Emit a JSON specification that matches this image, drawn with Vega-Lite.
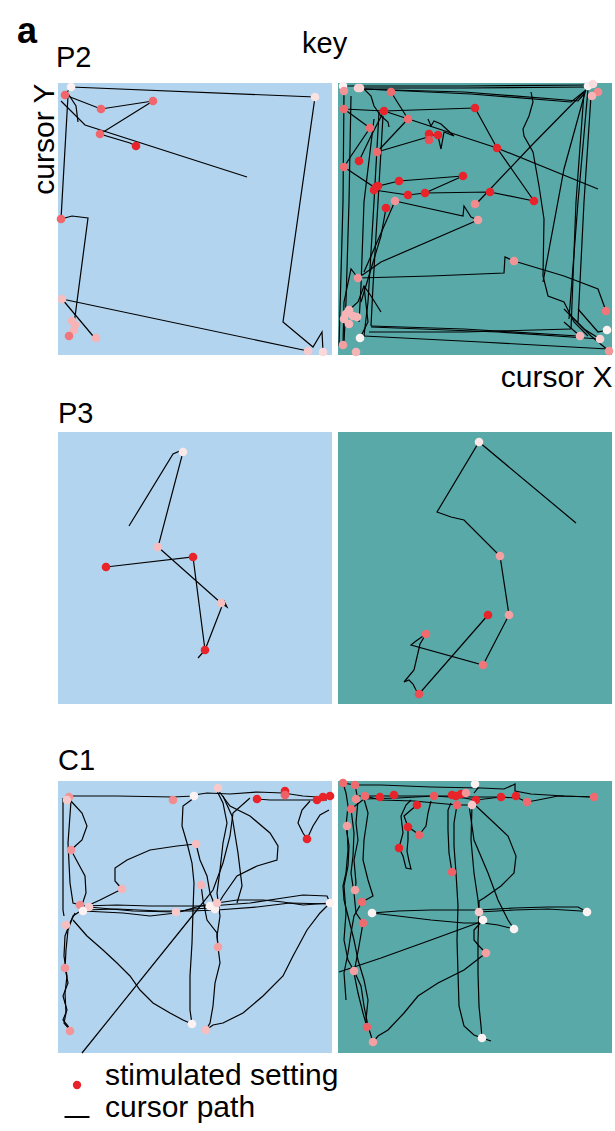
{
  "$schema": "https://vega.github.io/schema/vega-lite/v6.json",
  "padding": {"left": 17, "top": 13, "right": 3, "bottom": 3},
  "config": {
    "font": "Liberation Sans",
    "view": {"stroke": null},
    "title": {"color": "#000", "fontWeight": "normal"},
    "legend": {"orient": "none", "legendX": 4, "legendY": 987, "labelFontSize": 30, "labelColor": "#000", "labelLimit": 500, "labelOffset": 13, "labelBaseline": "alphabetic", "symbolStrokeWidth": 2, "rowPadding": 0, "padding": 0}
  },
  "title": {"text": "a", "anchor": "start", "frame": "group", "fontSize": 36, "fontWeight": "bold", "baseline": "alphabetic", "offset": -49, "dx": -41},
  "columns": 2,
  "bounds": "flush",
  "spacing": {"row": 77, "column": 6},
  "datasets": {
    "paths": [
      {"p":"P2L","g":"a1","x":189,"y":178},{"p":"P2L","g":"a1","x":27,"y":230},{"p":"P2L","g":"a1","x":3,"y":254},
      {"p":"P2L","g":"a2","x":13,"y":268},{"p":"P2L","g":"a2","x":257,"y":258},{"p":"P2L","g":"a2","x":225,"y":33},{"p":"P2L","g":"a2","x":255,"y":8},{"p":"P2L","g":"a2","x":264,"y":23},{"p":"P2L","g":"a2","x":265,"y":4},
      {"p":"P2L","g":"a3","x":7,"y":260},{"p":"P2L","g":"a3","x":43,"y":246},{"p":"P2L","g":"a3","x":95,"y":254},{"p":"P2L","g":"a3","x":42,"y":221},{"p":"P2L","g":"a3","x":72,"y":212},{"p":"P2L","g":"a3","x":78,"y":209},
      {"p":"P2L","g":"a4","x":10,"y":259},{"p":"P2L","g":"a4","x":3,"y":136},{"p":"P2L","g":"a4","x":14,"y":139},{"p":"P2L","g":"a4","x":30,"y":137},{"p":"P2L","g":"a4","x":15,"y":23},{"p":"P2L","g":"a4","x":11,"y":19},
      {"p":"P2L","g":"a5","x":4,"y":56},{"p":"P2L","g":"a5","x":250,"y":4},
      {"p":"P2L","g":"a6","x":4,"y":56},{"p":"P2L","g":"a6","x":35,"y":19},{"p":"P2L","g":"a6","x":38,"y":17},
      {"p":"P2L","g":"a7","x":9,"y":263},{"p":"P2L","g":"a7","x":18,"y":249},{"p":"P2L","g":"a7","x":20,"y":233},
      {"p":"P2L","g":"a8","x":7,"y":260},{"p":"P2L","g":"a8","x":13,"y":268},

      {"p":"P3L","g":"b1","x":71,"y":178},{"p":"P3L","g":"b1","x":115,"y":250},{"p":"P3L","g":"b1","x":122,"y":253},{"p":"P3L","g":"b1","x":125,"y":252},{"p":"P3L","g":"b1","x":100,"y":157},{"p":"P3L","g":"b1","x":163,"y":101},{"p":"P3L","g":"b1","x":169,"y":97},{"p":"P3L","g":"b1","x":166,"y":103},{"p":"P3L","g":"b1","x":147,"y":54},{"p":"P3L","g":"b1","x":135,"y":147},{"p":"P3L","g":"b1","x":48,"y":137},
      {"p":"P3L","g":"b2","x":140,"y":46},{"p":"P3L","g":"b2","x":147,"y":54},

      {"p":"P3R","g":"c1","x":238,"y":181},{"p":"P3R","g":"c1","x":141,"y":262},{"p":"P3R","g":"c1","x":99,"y":192},{"p":"P3R","g":"c1","x":113,"y":187},{"p":"P3R","g":"c1","x":126,"y":184},{"p":"P3R","g":"c1","x":162,"y":148},{"p":"P3R","g":"c1","x":171,"y":89},{"p":"P3R","g":"c1","x":145,"y":39},{"p":"P3R","g":"c1","x":73,"y":59},{"p":"P3R","g":"c1","x":78,"y":63},{"p":"P3R","g":"c1","x":88,"y":70},{"p":"P3R","g":"c1","x":82,"y":60},{"p":"P3R","g":"c1","x":76,"y":34},{"p":"P3R","g":"c1","x":66,"y":22},{"p":"P3R","g":"c1","x":71,"y":24},{"p":"P3R","g":"c1","x":75,"y":20},{"p":"P3R","g":"c1","x":78,"y":14},{"p":"P3R","g":"c1","x":81,"y":10},{"p":"P3R","g":"c1","x":150,"y":89},

      {"p":"C1L","g":"k1","x":9,"y":257},{"p":"C1L","g":"k1","x":59,"y":257},{"p":"C1L","g":"k1","x":115,"y":256},{"p":"C1L","g":"k1","x":136,"y":257},
      {"p":"C1L","g":"k2","x":136,"y":258},{"p":"C1L","g":"k2","x":149,"y":260},{"p":"C1L","g":"k2","x":172,"y":259},{"p":"C1L","g":"k2","x":199,"y":261},{"p":"C1L","g":"k2","x":225,"y":260},{"p":"C1L","g":"k2","x":245,"y":257},{"p":"C1L","g":"k2","x":259,"y":256},{"p":"C1L","g":"k2","x":272,"y":257},
      {"p":"C1L","g":"k3","x":199,"y":254},{"p":"C1L","g":"k3","x":212,"y":253},{"p":"C1L","g":"k3","x":232,"y":253},{"p":"C1L","g":"k3","x":259,"y":253},{"p":"C1L","g":"k3","x":269,"y":253},
      {"p":"C1L","g":"k4","x":252,"y":252},{"p":"C1L","g":"k4","x":244,"y":243},{"p":"C1L","g":"k4","x":240,"y":230},{"p":"C1L","g":"k4","x":245,"y":220},{"p":"C1L","g":"k4","x":249,"y":214},{"p":"C1L","g":"k4","x":255,"y":227},{"p":"C1L","g":"k4","x":262,"y":238},{"p":"C1L","g":"k4","x":271,"y":243},
      {"p":"C1L","g":"k5","x":5,"y":255},{"p":"C1L","g":"k5","x":5,"y":200},{"p":"C1L","g":"k5","x":5,"y":143},{"p":"C1L","g":"k5","x":6,"y":137},
      {"p":"C1L","g":"k6","x":13,"y":252},{"p":"C1L","g":"k6","x":10,"y":210},{"p":"C1L","g":"k6","x":12,"y":170},{"p":"C1L","g":"k6","x":15,"y":150},{"p":"C1L","g":"k6","x":22,"y":148},
      {"p":"C1L","g":"k7","x":12,"y":253},{"p":"C1L","g":"k7","x":24,"y":240},{"p":"C1L","g":"k7","x":29,"y":227},{"p":"C1L","g":"k7","x":24,"y":213},{"p":"C1L","g":"k7","x":13,"y":203},{"p":"C1L","g":"k7","x":20,"y":190},{"p":"C1L","g":"k7","x":27,"y":177},{"p":"C1L","g":"k7","x":28,"y":160},{"p":"C1L","g":"k7","x":24,"y":148},
      {"p":"C1L","g":"k8","x":24,"y":143},{"p":"C1L","g":"k8","x":15,"y":137},{"p":"C1L","g":"k8","x":10,"y":123},{"p":"C1L","g":"k8","x":8,"y":103},{"p":"C1L","g":"k8","x":7,"y":85},{"p":"C1L","g":"k8","x":10,"y":70},{"p":"C1L","g":"k8","x":5,"y":57},{"p":"C1L","g":"k8","x":9,"y":43},{"p":"C1L","g":"k8","x":5,"y":33},{"p":"C1L","g":"k8","x":10,"y":27},{"p":"C1L","g":"k8","x":12,"y":22},
      {"p":"C1L","g":"k9","x":17,"y":140},{"p":"C1L","g":"k9","x":12,"y":130},{"p":"C1L","g":"k9","x":7,"y":117},{"p":"C1L","g":"k9","x":6,"y":97},{"p":"C1L","g":"k9","x":9,"y":77},{"p":"C1L","g":"k9","x":7,"y":60},{"p":"C1L","g":"k9","x":8,"y":40},{"p":"C1L","g":"k9","x":6,"y":30},{"p":"C1L","g":"k9","x":12,"y":23},
      {"p":"C1L","g":"k10","x":15,"y":133},{"p":"C1L","g":"k10","x":29,"y":117},{"p":"C1L","g":"k10","x":45,"y":103},{"p":"C1L","g":"k10","x":59,"y":90},{"p":"C1L","g":"k10","x":72,"y":77},{"p":"C1L","g":"k10","x":82,"y":63},{"p":"C1L","g":"k10","x":95,"y":50},{"p":"C1L","g":"k10","x":112,"y":40},{"p":"C1L","g":"k10","x":125,"y":33},{"p":"C1L","g":"k10","x":134,"y":29},
      {"p":"C1L","g":"k11","x":24,"y":0},{"p":"C1L","g":"k11","x":139,"y":143},{"p":"C1L","g":"k11","x":155,"y":163},{"p":"C1L","g":"k11","x":165,"y":190},{"p":"C1L","g":"k11","x":172,"y":217},{"p":"C1L","g":"k11","x":175,"y":240},{"p":"C1L","g":"k11","x":192,"y":255},
      {"p":"C1L","g":"k12","x":22,"y":147},{"p":"C1L","g":"k12","x":59,"y":148},{"p":"C1L","g":"k12","x":92,"y":147},{"p":"C1L","g":"k12","x":132,"y":147},{"p":"C1L","g":"k12","x":152,"y":147},{"p":"C1L","g":"k12","x":192,"y":150},{"p":"C1L","g":"k12","x":225,"y":155},{"p":"C1L","g":"k12","x":245,"y":158},{"p":"C1L","g":"k12","x":269,"y":157},{"p":"C1L","g":"k12","x":272,"y":150},
      {"p":"C1L","g":"k13","x":25,"y":143},{"p":"C1L","g":"k13","x":59,"y":144},{"p":"C1L","g":"k13","x":102,"y":142},{"p":"C1L","g":"k13","x":132,"y":142},{"p":"C1L","g":"k13","x":159,"y":143},{"p":"C1L","g":"k13","x":199,"y":146},{"p":"C1L","g":"k13","x":232,"y":150},{"p":"C1L","g":"k13","x":272,"y":149},
      {"p":"C1L","g":"k14","x":31,"y":146},{"p":"C1L","g":"k14","x":75,"y":142},{"p":"C1L","g":"k14","x":118,"y":141},{"p":"C1L","g":"k14","x":135,"y":144},{"p":"C1L","g":"k14","x":152,"y":145},
      {"p":"C1L","g":"k15","x":25,"y":142},{"p":"C1L","g":"k15","x":65,"y":140},{"p":"C1L","g":"k15","x":92,"y":137},{"p":"C1L","g":"k15","x":118,"y":140},{"p":"C1L","g":"k15","x":142,"y":147},{"p":"C1L","g":"k15","x":159,"y":150},{"p":"C1L","g":"k15","x":179,"y":153},{"p":"C1L","g":"k15","x":205,"y":153},{"p":"C1L","g":"k15","x":225,"y":151},{"p":"C1L","g":"k15","x":245,"y":148},{"p":"C1L","g":"k15","x":272,"y":150},
      {"p":"C1L","g":"k16","x":64,"y":164},{"p":"C1L","g":"k16","x":57,"y":172},{"p":"C1L","g":"k16","x":57,"y":185},{"p":"C1L","g":"k16","x":69,"y":193},{"p":"C1L","g":"k16","x":92,"y":203},{"p":"C1L","g":"k16","x":119,"y":207},{"p":"C1L","g":"k16","x":138,"y":209},
      {"p":"C1L","g":"k17","x":64,"y":164},{"p":"C1L","g":"k17","x":42,"y":153},{"p":"C1L","g":"k17","x":29,"y":147},
      {"p":"C1L","g":"k18","x":136,"y":255},{"p":"C1L","g":"k18","x":125,"y":247},{"p":"C1L","g":"k18","x":124,"y":227},{"p":"C1L","g":"k18","x":129,"y":210},{"p":"C1L","g":"k18","x":134,"y":190},{"p":"C1L","g":"k18","x":136,"y":170},{"p":"C1L","g":"k18","x":135,"y":143},{"p":"C1L","g":"k18","x":134,"y":110},{"p":"C1L","g":"k18","x":132,"y":77},{"p":"C1L","g":"k18","x":132,"y":43},{"p":"C1L","g":"k18","x":134,"y":29},
      {"p":"C1L","g":"k19","x":138,"y":209},{"p":"C1L","g":"k19","x":142,"y":193},{"p":"C1L","g":"k19","x":149,"y":177},{"p":"C1L","g":"k19","x":152,"y":160},{"p":"C1L","g":"k19","x":157,"y":147},
      {"p":"C1L","g":"k20","x":159,"y":262},{"p":"C1L","g":"k20","x":165,"y":250},{"p":"C1L","g":"k20","x":169,"y":230},{"p":"C1L","g":"k20","x":165,"y":210},{"p":"C1L","g":"k20","x":162,"y":183},{"p":"C1L","g":"k20","x":159,"y":160},{"p":"C1L","g":"k20","x":162,"y":137},{"p":"C1L","g":"k20","x":159,"y":117},{"p":"C1L","g":"k20","x":160,"y":106},
      {"p":"C1L","g":"k21","x":160,"y":106},{"p":"C1L","g":"k21","x":162,"y":90},{"p":"C1L","g":"k21","x":157,"y":70},{"p":"C1L","g":"k21","x":155,"y":47},{"p":"C1L","g":"k21","x":152,"y":30},{"p":"C1L","g":"k21","x":148,"y":23},
      {"p":"C1L","g":"k22","x":160,"y":263},{"p":"C1L","g":"k22","x":172,"y":247},{"p":"C1L","g":"k22","x":192,"y":237},{"p":"C1L","g":"k22","x":212,"y":220},{"p":"C1L","g":"k22","x":220,"y":207},{"p":"C1L","g":"k22","x":219,"y":193},{"p":"C1L","g":"k22","x":199,"y":187},{"p":"C1L","g":"k22","x":179,"y":177},{"p":"C1L","g":"k22","x":165,"y":157},{"p":"C1L","g":"k22","x":159,"y":147},
      {"p":"C1L","g":"k23","x":272,"y":150},{"p":"C1L","g":"k23","x":262,"y":140},{"p":"C1L","g":"k23","x":249,"y":123},{"p":"C1L","g":"k23","x":235,"y":97},{"p":"C1L","g":"k23","x":225,"y":77},{"p":"C1L","g":"k23","x":205,"y":57},{"p":"C1L","g":"k23","x":185,"y":40},{"p":"C1L","g":"k23","x":165,"y":30},{"p":"C1L","g":"k23","x":155,"y":28},{"p":"C1L","g":"k23","x":148,"y":23},
      {"p":"C1L","g":"k24","x":143,"y":168},{"p":"C1L","g":"k24","x":145,"y":153},{"p":"C1L","g":"k24","x":149,"y":133},{"p":"C1L","g":"k24","x":159,"y":120},{"p":"C1L","g":"k24","x":160,"y":106},
      {"p":"C1L","g":"k25","x":165,"y":257},{"p":"C1L","g":"k25","x":174,"y":237},{"p":"C1L","g":"k25","x":180,"y":200},{"p":"C1L","g":"k25","x":184,"y":167},{"p":"C1L","g":"k25","x":179,"y":150},

      {"p":"C1R","g":"d1","x":5,"y":270},{"p":"C1R","g":"d1","x":17,"y":268},{"p":"C1R","g":"d1","x":43,"y":268},{"p":"C1R","g":"d1","x":93,"y":266},{"p":"C1R","g":"d1","x":143,"y":265},{"p":"C1R","g":"d1","x":166,"y":264},{"p":"C1R","g":"d1","x":175,"y":268},{"p":"C1R","g":"d1","x":177,"y":269},{"p":"C1R","g":"d1","x":177,"y":262},{"p":"C1R","g":"d1","x":193,"y":259},{"p":"C1R","g":"d1","x":226,"y":257},{"p":"C1R","g":"d1","x":256,"y":256},
      {"p":"C1R","g":"d2","x":18,"y":257},{"p":"C1R","g":"d2","x":43,"y":257},{"p":"C1R","g":"d2","x":76,"y":257},{"p":"C1R","g":"d2","x":110,"y":257},{"p":"C1R","g":"d2","x":133,"y":256},{"p":"C1R","g":"d2","x":160,"y":256},{"p":"C1R","g":"d2","x":180,"y":255},{"p":"C1R","g":"d2","x":189,"y":251},{"p":"C1R","g":"d2","x":200,"y":253},{"p":"C1R","g":"d2","x":220,"y":257},{"p":"C1R","g":"d2","x":256,"y":256},
      {"p":"C1R","g":"d3","x":13,"y":244},{"p":"C1R","g":"d3","x":26,"y":254},{"p":"C1R","g":"d3","x":60,"y":255},{"p":"C1R","g":"d3","x":96,"y":257},{"p":"C1R","g":"d3","x":126,"y":255},{"p":"C1R","g":"d3","x":138,"y":253},{"p":"C1R","g":"d3","x":163,"y":256},
      {"p":"C1R","g":"d4","x":27,"y":257},{"p":"C1R","g":"d4","x":43,"y":253},{"p":"C1R","g":"d4","x":76,"y":252},{"p":"C1R","g":"d4","x":119,"y":248},{"p":"C1R","g":"d4","x":133,"y":248},
      {"p":"C1R","g":"d5","x":79,"y":248},{"p":"C1R","g":"d5","x":73,"y":243},{"p":"C1R","g":"d5","x":66,"y":237},{"p":"C1R","g":"d5","x":70,"y":226},{"p":"C1R","g":"d5","x":76,"y":222},{"p":"C1R","g":"d5","x":81,"y":218},{"p":"C1R","g":"d5","x":88,"y":227},{"p":"C1R","g":"d5","x":90,"y":240},{"p":"C1R","g":"d5","x":93,"y":252},
      {"p":"C1R","g":"d6","x":61,"y":205},{"p":"C1R","g":"d6","x":65,"y":220},{"p":"C1R","g":"d6","x":63,"y":237},{"p":"C1R","g":"d6","x":68,"y":248},{"p":"C1R","g":"d6","x":73,"y":253},
      {"p":"C1R","g":"d6b","x":61,"y":205},{"p":"C1R","g":"d6b","x":65,"y":197},{"p":"C1R","g":"d6b","x":68,"y":185},{"p":"C1R","g":"d6b","x":73,"y":184},{"p":"C1R","g":"d6b","x":71,"y":192},{"p":"C1R","g":"d6b","x":69,"y":202},{"p":"C1R","g":"d6b","x":70,"y":213},{"p":"C1R","g":"d6b","x":70,"y":226},
      {"p":"C1R","g":"d7","x":5,"y":270},{"p":"C1R","g":"d7","x":8,"y":260},{"p":"C1R","g":"d7","x":10,"y":247},{"p":"C1R","g":"d7","x":8,"y":227},{"p":"C1R","g":"d7","x":11,"y":207},{"p":"C1R","g":"d7","x":10,"y":187},{"p":"C1R","g":"d7","x":6,"y":167},{"p":"C1R","g":"d7","x":8,"y":140},{"p":"C1R","g":"d7","x":6,"y":113},{"p":"C1R","g":"d7","x":10,"y":93},{"p":"C1R","g":"d7","x":16,"y":82},
      {"p":"C1R","g":"d8","x":17,"y":268},{"p":"C1R","g":"d8","x":20,"y":253},{"p":"C1R","g":"d8","x":18,"y":230},{"p":"C1R","g":"d8","x":20,"y":213},{"p":"C1R","g":"d8","x":16,"y":193},{"p":"C1R","g":"d8","x":18,"y":170},{"p":"C1R","g":"d8","x":17,"y":163},
      {"p":"C1R","g":"d9","x":26,"y":254},{"p":"C1R","g":"d9","x":30,"y":240},{"p":"C1R","g":"d9","x":26,"y":213},{"p":"C1R","g":"d9","x":25,"y":193},{"p":"C1R","g":"d9","x":30,"y":173},{"p":"C1R","g":"d9","x":35,"y":157},{"p":"C1R","g":"d9","x":24,"y":151},
      {"p":"C1R","g":"d10","x":13,"y":244},{"p":"C1R","g":"d10","x":16,"y":220},{"p":"C1R","g":"d10","x":15,"y":197},{"p":"C1R","g":"d10","x":13,"y":180},{"p":"C1R","g":"d10","x":16,"y":160},{"p":"C1R","g":"d10","x":18,"y":140},{"p":"C1R","g":"d10","x":25,"y":130},
      {"p":"C1R","g":"d11","x":9,"y":227},{"p":"C1R","g":"d11","x":10,"y":203},{"p":"C1R","g":"d11","x":8,"y":180},{"p":"C1R","g":"d11","x":5,"y":167},{"p":"C1R","g":"d11","x":6,"y":153},{"p":"C1R","g":"d11","x":11,"y":133},{"p":"C1R","g":"d11","x":16,"y":113},{"p":"C1R","g":"d11","x":20,"y":93},{"p":"C1R","g":"d11","x":26,"y":73},{"p":"C1R","g":"d11","x":30,"y":53},{"p":"C1R","g":"d11","x":28,"y":33},{"p":"C1R","g":"d11","x":29,"y":26},
      {"p":"C1R","g":"d12","x":25,"y":130},{"p":"C1R","g":"d12","x":21,"y":107},{"p":"C1R","g":"d12","x":16,"y":80},{"p":"C1R","g":"d12","x":20,"y":60},{"p":"C1R","g":"d12","x":25,"y":40},{"p":"C1R","g":"d12","x":29,"y":26},
      {"p":"C1R","g":"d13","x":16,"y":82},{"p":"C1R","g":"d13","x":23,"y":67},{"p":"C1R","g":"d13","x":26,"y":47},{"p":"C1R","g":"d13","x":30,"y":27},{"p":"C1R","g":"d13","x":35,"y":11},
      {"p":"C1R","g":"d14","x":24,"y":151},{"p":"C1R","g":"d14","x":16,"y":137},{"p":"C1R","g":"d14","x":13,"y":120},{"p":"C1R","g":"d14","x":10,"y":100},{"p":"C1R","g":"d14","x":6,"y":80},{"p":"C1R","g":"d14","x":8,"y":53},
      {"p":"C1R","g":"d15","x":114,"y":181},{"p":"C1R","g":"d15","x":111,"y":200},{"p":"C1R","g":"d15","x":110,"y":223},{"p":"C1R","g":"d15","x":110,"y":243},{"p":"C1R","g":"d15","x":113,"y":250},
      {"p":"C1R","g":"d16","x":119,"y":248},{"p":"C1R","g":"d16","x":116,"y":230},{"p":"C1R","g":"d16","x":116,"y":207},{"p":"C1R","g":"d16","x":118,"y":180},{"p":"C1R","g":"d16","x":120,"y":147},{"p":"C1R","g":"d16","x":119,"y":113},{"p":"C1R","g":"d16","x":120,"y":80},{"p":"C1R","g":"d16","x":121,"y":47},{"p":"C1R","g":"d16","x":126,"y":27},{"p":"C1R","g":"d16","x":136,"y":18},{"p":"C1R","g":"d16","x":144,"y":15},{"p":"C1R","g":"d16","x":153,"y":12},
      {"p":"C1R","g":"d17","x":134,"y":248},{"p":"C1R","g":"d17","x":133,"y":213},{"p":"C1R","g":"d17","x":136,"y":180},{"p":"C1R","g":"d17","x":140,"y":153},{"p":"C1R","g":"d17","x":141,"y":141},
      {"p":"C1R","g":"d18","x":131,"y":248},{"p":"C1R","g":"d18","x":136,"y":213},{"p":"C1R","g":"d18","x":150,"y":180},{"p":"C1R","g":"d18","x":160,"y":153},{"p":"C1R","g":"d18","x":170,"y":133},{"p":"C1R","g":"d18","x":176,"y":124},
      {"p":"C1R","g":"d19","x":138,"y":247},{"p":"C1R","g":"d19","x":153,"y":233},{"p":"C1R","g":"d19","x":170,"y":217},{"p":"C1R","g":"d19","x":178,"y":197},{"p":"C1R","g":"d19","x":176,"y":180},{"p":"C1R","g":"d19","x":163,"y":167},{"p":"C1R","g":"d19","x":146,"y":155},{"p":"C1R","g":"d19","x":141,"y":152},{"p":"C1R","g":"d19","x":141,"y":141},
      {"p":"C1R","g":"d20","x":34,"y":140},{"p":"C1R","g":"d20","x":60,"y":142},{"p":"C1R","g":"d20","x":93,"y":143},{"p":"C1R","g":"d20","x":141,"y":143},{"p":"C1R","g":"d20","x":176,"y":145},{"p":"C1R","g":"d20","x":210,"y":146},{"p":"C1R","g":"d20","x":240,"y":146},{"p":"C1R","g":"d20","x":249,"y":141},
      {"p":"C1R","g":"d21","x":34,"y":140},{"p":"C1R","g":"d21","x":60,"y":137},{"p":"C1R","g":"d21","x":93,"y":133},{"p":"C1R","g":"d21","x":126,"y":130},{"p":"C1R","g":"d21","x":145,"y":130},{"p":"C1R","g":"d21","x":160,"y":128},{"p":"C1R","g":"d21","x":176,"y":124},
      {"p":"C1R","g":"d22","x":141,"y":141},{"p":"C1R","g":"d22","x":176,"y":143},{"p":"C1R","g":"d22","x":210,"y":144},{"p":"C1R","g":"d22","x":243,"y":142},{"p":"C1R","g":"d22","x":249,"y":141},
      {"p":"C1R","g":"d23","x":1,"y":81},{"p":"C1R","g":"d23","x":43,"y":95},{"p":"C1R","g":"d23","x":93,"y":113},{"p":"C1R","g":"d23","x":145,"y":132},
      {"p":"C1R","g":"d24","x":145,"y":133},{"p":"C1R","g":"d24","x":136,"y":123},{"p":"C1R","g":"d24","x":136,"y":113},{"p":"C1R","g":"d24","x":141,"y":107},{"p":"C1R","g":"d24","x":148,"y":100},
      {"p":"C1R","g":"d25","x":148,"y":100},{"p":"C1R","g":"d25","x":126,"y":83},{"p":"C1R","g":"d25","x":100,"y":70},{"p":"C1R","g":"d25","x":80,"y":57},{"p":"C1R","g":"d25","x":66,"y":40},{"p":"C1R","g":"d25","x":50,"y":23},{"p":"C1R","g":"d25","x":40,"y":17},{"p":"C1R","g":"d25","x":35,"y":11},
      {"p":"C1R","g":"d26","x":141,"y":141},{"p":"C1R","g":"d26","x":140,"y":113},{"p":"C1R","g":"d26","x":140,"y":80},{"p":"C1R","g":"d26","x":141,"y":47},{"p":"C1R","g":"d26","x":143,"y":27},{"p":"C1R","g":"d26","x":144,"y":15},
      {"p":"C1R","g":"d27","x":137,"y":269},{"p":"C1R","g":"d27","x":140,"y":265},{"p":"C1R","g":"d27","x":136,"y":260},

      {"p":"P2R","g":"e1","x":5,"y":269},{"p":"P2R","g":"e1","x":126,"y":269},{"p":"P2R","g":"e1","x":250,"y":270},
      {"p":"P2R","g":"e2","x":22,"y":267},{"p":"P2R","g":"e2","x":126,"y":267},{"p":"P2R","g":"e2","x":250,"y":268},
      {"p":"P2R","g":"e3","x":20,"y":266},{"p":"P2R","g":"e3","x":126,"y":263},{"p":"P2R","g":"e3","x":240,"y":254},{"p":"P2R","g":"e3","x":246,"y":261},
      {"p":"P2R","g":"e4","x":26,"y":266},{"p":"P2R","g":"e4","x":133,"y":261},{"p":"P2R","g":"e4","x":233,"y":253},{"p":"P2R","g":"e4","x":248,"y":265},
      {"p":"P2R","g":"e6","x":6,"y":264},{"p":"P2R","g":"e6","x":5,"y":153},{"p":"P2R","g":"e6","x":1,"y":9},
      {"p":"P2R","g":"e7","x":13,"y":259},{"p":"P2R","g":"e7","x":11,"y":153},{"p":"P2R","g":"e7","x":8,"y":53},{"p":"P2R","g":"e7","x":6,"y":13},
      {"p":"P2R","g":"e8","x":41,"y":243},{"p":"P2R","g":"e8","x":36,"y":153},{"p":"P2R","g":"e8","x":30,"y":53},{"p":"P2R","g":"e8","x":26,"y":19},
      {"p":"P2R","g":"e9","x":45,"y":239},{"p":"P2R","g":"e9","x":40,"y":153},{"p":"P2R","g":"e9","x":35,"y":69},{"p":"P2R","g":"e9","x":33,"y":29},
      {"p":"P2R","g":"e10","x":36,"y":236},{"p":"P2R","g":"e10","x":26,"y":153},{"p":"P2R","g":"e10","x":23,"y":69},{"p":"P2R","g":"e10","x":21,"y":33},
      {"p":"P2R","g":"e11","x":33,"y":29},{"p":"P2R","g":"e11","x":126,"y":26},{"p":"P2R","g":"e11","x":240,"y":19},
      {"p":"P2R","g":"e12","x":26,"y":19},{"p":"P2R","g":"e12","x":143,"y":13},{"p":"P2R","g":"e12","x":270,"y":6},
      {"p":"P2R","g":"e13","x":31,"y":23},{"p":"P2R","g":"e13","x":126,"y":23},{"p":"P2R","g":"e13","x":233,"y":26},
      {"p":"P2R","g":"e14","x":33,"y":28},{"p":"P2R","g":"e14","x":160,"y":23},{"p":"P2R","g":"e14","x":262,"y":16},
      {"p":"P2R","g":"e15","x":250,"y":266},{"p":"P2R","g":"e15","x":240,"y":153},{"p":"P2R","g":"e15","x":231,"y":36},
      {"p":"P2R","g":"e16","x":246,"y":263},{"p":"P2R","g":"e16","x":238,"y":153},{"p":"P2R","g":"e16","x":233,"y":26},
      {"p":"P2R","g":"e17","x":253,"y":259},{"p":"P2R","g":"e17","x":246,"y":153},{"p":"P2R","g":"e17","x":240,"y":33},
      {"p":"P2R","g":"e18","x":248,"y":266},{"p":"P2R","g":"e18","x":226,"y":186},{"p":"P2R","g":"e18","x":205,"y":73},
      {"p":"P2R","g":"e19","x":193,"y":263},{"p":"P2R","g":"e19","x":195,"y":253},{"p":"P2R","g":"e19","x":191,"y":239},{"p":"P2R","g":"e19","x":185,"y":226},{"p":"P2R","g":"e19","x":186,"y":219},{"p":"P2R","g":"e19","x":195,"y":203},{"p":"P2R","g":"e19","x":201,"y":169},{"p":"P2R","g":"e19","x":206,"y":136},{"p":"P2R","g":"e19","x":205,"y":79},{"p":"P2R","g":"e19","x":210,"y":59},{"p":"P2R","g":"e19","x":226,"y":53},{"p":"P2R","g":"e19","x":236,"y":33},{"p":"P2R","g":"e19","x":250,"y":19},
      {"p":"P2R","g":"e20","x":140,"y":153},{"p":"P2R","g":"e20","x":193,"y":209},{"p":"P2R","g":"e20","x":246,"y":263},
      {"p":"P2R","g":"e21","x":137,"y":247},{"p":"P2R","g":"e21","x":159,"y":207},{"p":"P2R","g":"e21","x":196,"y":154},
      {"p":"P2R","g":"e22","x":46,"y":244},{"p":"P2R","g":"e22","x":159,"y":207},{"p":"P2R","g":"e22","x":260,"y":166},
      {"p":"P2R","g":"e23","x":6,"y":246},{"p":"P2R","g":"e23","x":46,"y":244},{"p":"P2R","g":"e23","x":137,"y":247},
      {"p":"P2R","g":"e24","x":6,"y":188},{"p":"P2R","g":"e24","x":36,"y":168},{"p":"P2R","g":"e24","x":61,"y":174},{"p":"P2R","g":"e24","x":125,"y":179},
      {"p":"P2R","g":"e25","x":36,"y":165},{"p":"P2R","g":"e25","x":70,"y":160},{"p":"P2R","g":"e25","x":87,"y":162},{"p":"P2R","g":"e25","x":152,"y":163},{"p":"P2R","g":"e25","x":196,"y":154},
      {"p":"P2R","g":"e26","x":87,"y":162},{"p":"P2R","g":"e26","x":125,"y":179},
      {"p":"P2R","g":"e27","x":57,"y":154},{"p":"P2R","g":"e27","x":125,"y":139},{"p":"P2R","g":"e27","x":126,"y":149},{"p":"P2R","g":"e27","x":133,"y":138},{"p":"P2R","g":"e27","x":140,"y":135},
      {"p":"P2R","g":"e28","x":140,"y":135},{"p":"P2R","g":"e28","x":43,"y":93},{"p":"P2R","g":"e28","x":20,"y":77},
      {"p":"P2R","g":"e29","x":20,"y":77},{"p":"P2R","g":"e29","x":93,"y":79},{"p":"P2R","g":"e29","x":166,"y":82},{"p":"P2R","g":"e29","x":167,"y":98},{"p":"P2R","g":"e29","x":176,"y":94},
      {"p":"P2R","g":"e30","x":176,"y":94},{"p":"P2R","g":"e30","x":226,"y":79},{"p":"P2R","g":"e30","x":260,"y":66},{"p":"P2R","g":"e30","x":268,"y":44},
      {"p":"P2R","g":"e31","x":48,"y":147},{"p":"P2R","g":"e31","x":43,"y":119},{"p":"P2R","g":"e31","x":33,"y":86},{"p":"P2R","g":"e31","x":23,"y":53},
      {"p":"P2R","g":"e32","x":39,"y":203},{"p":"P2R","g":"e32","x":90,"y":218},
      {"p":"P2R","g":"e33","x":32,"y":227},{"p":"P2R","g":"e33","x":13,"y":199},{"p":"P2R","g":"e33","x":6,"y":188},
      {"p":"P2R","g":"e34","x":70,"y":236},{"p":"P2R","g":"e34","x":39,"y":203},
      {"p":"P2R","g":"e35","x":90,"y":236},{"p":"P2R","g":"e35","x":93,"y":229},{"p":"P2R","g":"e35","x":96,"y":234},{"p":"P2R","g":"e35","x":103,"y":231},{"p":"P2R","g":"e35","x":116,"y":219},{"p":"P2R","g":"e35","x":106,"y":223},{"p":"P2R","g":"e35","x":103,"y":206},{"p":"P2R","g":"e35","x":100,"y":219},{"p":"P2R","g":"e35","x":91,"y":221},
      {"p":"P2R","g":"e36","x":21,"y":194},{"p":"P2R","g":"e36","x":33,"y":219},{"p":"P2R","g":"e36","x":46,"y":244},
      {"p":"P2R","g":"e37","x":6,"y":246},{"p":"P2R","g":"e37","x":32,"y":227},
      {"p":"P2R","g":"e39","x":26,"y":266},{"p":"P2R","g":"e39","x":33,"y":259},{"p":"P2R","g":"e39","x":36,"y":249},{"p":"P2R","g":"e39","x":43,"y":239},{"p":"P2R","g":"e39","x":50,"y":233},{"p":"P2R","g":"e39","x":51,"y":228},
      {"p":"P2R","g":"e40","x":11,"y":45},{"p":"P2R","g":"e40","x":20,"y":53},{"p":"P2R","g":"e40","x":26,"y":69},{"p":"P2R","g":"e40","x":33,"y":59},{"p":"P2R","g":"e40","x":43,"y":43},
      {"p":"P2R","g":"e42","x":5,"y":10},{"p":"P2R","g":"e42","x":6,"y":53},{"p":"P2R","g":"e42","x":13,"y":86},{"p":"P2R","g":"e42","x":20,"y":77},
      {"p":"P2R","g":"e43","x":22,"y":17},{"p":"P2R","g":"e43","x":30,"y":33},{"p":"P2R","g":"e43","x":26,"y":69},
      {"p":"P2R","g":"e44a","x":226,"y":46},{"p":"P2R","g":"e44a","x":246,"y":26},{"p":"P2R","g":"e44a","x":262,"y":16},
      {"p":"P2R","g":"e44b","x":233,"y":39},{"p":"P2R","g":"e44b","x":253,"y":19},{"p":"P2R","g":"e44b","x":271,"y":4},
      {"p":"P2R","g":"e44c","x":240,"y":46},{"p":"P2R","g":"e44c","x":260,"y":23},{"p":"P2R","g":"e44c","x":269,"y":25},
      {"p":"P2R","g":"e45","x":242,"y":19},{"p":"P2R","g":"e45","x":226,"y":33},
      {"p":"P2R","g":"e50","x":57,"y":154},{"p":"P2R","g":"e50","x":26,"y":83},
      {"p":"P2R","g":"e51","x":53,"y":263},{"p":"P2R","g":"e51","x":70,"y":236}
    ],
    "dots": [
      {"p":"P2L","x":13,"y":268,"s":0},{"p":"P2L","x":7,"y":260,"s":0.67},{"p":"P2L","x":43,"y":246,"s":0.67},{"p":"P2L","x":95,"y":254,"s":0.67},{"p":"P2L","x":42,"y":221,"s":0.67},{"p":"P2L","x":78,"y":209,"s":1},{"p":"P2L","x":257,"y":258,"s":0.08},{"p":"P2L","x":3,"y":136,"s":0.67},{"p":"P2L","x":4,"y":56,"s":0.25},{"p":"P2L","x":14,"y":34,"s":0.3},{"p":"P2L","x":17,"y":30,"s":0.3},{"p":"P2L","x":16,"y":25,"s":0.3},{"p":"P2L","x":11,"y":19,"s":0.6},{"p":"P2L","x":38,"y":17,"s":0.3},{"p":"P2L","x":250,"y":4,"s":0.2},{"p":"P2L","x":265,"y":3,"s":0.12},
      {"p":"P3L","x":125,"y":252,"s":0.05},{"p":"P3L","x":100,"y":157,"s":0.25},{"p":"P3L","x":135,"y":147,"s":1},{"p":"P3L","x":48,"y":137,"s":1},{"p":"P3L","x":163,"y":101,"s":0.25},{"p":"P3L","x":147,"y":54,"s":1},
      {"p":"P3R","x":141,"y":262,"s":0.05},{"p":"P3R","x":162,"y":148,"s":0.4},{"p":"P3R","x":171,"y":89,"s":0.4},{"p":"P3R","x":150,"y":89,"s":1},{"p":"P3R","x":88,"y":70,"s":0.65},{"p":"P3R","x":145,"y":39,"s":0.6},{"p":"P3R","x":81,"y":10,"s":0.8},
      {"p":"C1L","x":11,"y":256,"s":0.45},{"p":"C1L","x":9,"y":253,"s":0.2},{"p":"C1L","x":115,"y":253,"s":0.5},{"p":"C1L","x":136,"y":257,"s":0},{"p":"C1L","x":160,"y":265,"s":0.2},{"p":"C1L","x":199,"y":254,"s":1},{"p":"C1L","x":227,"y":262,"s":1},{"p":"C1L","x":227,"y":258,"s":0.7},{"p":"C1L","x":259,"y":253,"s":1},{"p":"C1L","x":265,"y":256,"s":1},{"p":"C1L","x":272,"y":257,"s":1},{"p":"C1L","x":249,"y":214,"s":1},{"p":"C1L","x":13,"y":203,"s":0.45},{"p":"C1L","x":138,"y":209,"s":0.25},{"p":"C1L","x":143,"y":168,"s":0.3},{"p":"C1L","x":64,"y":164,"s":0.3},{"p":"C1L","x":22,"y":148,"s":0.5},{"p":"C1L","x":31,"y":146,"s":0.2},{"p":"C1L","x":25,"y":142,"s":0},{"p":"C1L","x":118,"y":141,"s":0.2},{"p":"C1L","x":152,"y":147,"s":0},{"p":"C1L","x":157,"y":144,"s":0},{"p":"C1L","x":159,"y":150,"s":0.2},{"p":"C1L","x":272,"y":150,"s":0},{"p":"C1L","x":8,"y":128,"s":0.25},{"p":"C1L","x":160,"y":106,"s":0.4},{"p":"C1L","x":7,"y":85,"s":0.45},{"p":"C1L","x":12,"y":22,"s":0.45},{"p":"C1L","x":134,"y":29,"s":0},{"p":"C1L","x":148,"y":23,"s":0.25},
      {"p":"C1R","x":5,"y":270,"s":0.65},{"p":"C1R","x":17,"y":268,"s":0.65},{"p":"C1R","x":137,"y":269,"s":0},{"p":"C1R","x":18,"y":254,"s":0.5},{"p":"C1R","x":27,"y":257,"s":0.65},{"p":"C1R","x":42,"y":256,"s":1},{"p":"C1R","x":56,"y":258,"s":1},{"p":"C1R","x":96,"y":257,"s":0.75},{"p":"C1R","x":114,"y":258,"s":1},{"p":"C1R","x":118,"y":257,"s":1},{"p":"C1R","x":123,"y":259,"s":1},{"p":"C1R","x":128,"y":260,"s":0.45},{"p":"C1R","x":138,"y":253,"s":1},{"p":"C1R","x":134,"y":248,"s":0.2},{"p":"C1R","x":119,"y":248,"s":0.7},{"p":"C1R","x":163,"y":256,"s":1},{"p":"C1R","x":178,"y":257,"s":1},{"p":"C1R","x":189,"y":251,"s":0.65},{"p":"C1R","x":256,"y":256,"s":0.65},{"p":"C1R","x":13,"y":244,"s":0.65},{"p":"C1R","x":79,"y":248,"s":1},{"p":"C1R","x":70,"y":226,"s":1},{"p":"C1R","x":81,"y":218,"s":0.7},{"p":"C1R","x":61,"y":205,"s":1},{"p":"C1R","x":9,"y":227,"s":0.4},{"p":"C1R","x":114,"y":181,"s":0.7},{"p":"C1R","x":17,"y":163,"s":0.4},{"p":"C1R","x":24,"y":151,"s":0.65},{"p":"C1R","x":34,"y":140,"s":0},{"p":"C1R","x":141,"y":141,"s":0.2},{"p":"C1R","x":145,"y":133,"s":0},{"p":"C1R","x":25,"y":130,"s":0.65},{"p":"C1R","x":176,"y":124,"s":0},{"p":"C1R","x":249,"y":141,"s":0},{"p":"C1R","x":148,"y":100,"s":0.4},{"p":"C1R","x":16,"y":82,"s":0.4},{"p":"C1R","x":29,"y":26,"s":0.7},{"p":"C1R","x":35,"y":11,"s":0.4},{"p":"C1R","x":144,"y":15,"s":0},
      {"p":"P2R","x":5,"y":269,"s":0},{"p":"P2R","x":6,"y":264,"s":0.45},{"p":"P2R","x":20,"y":267,"s":0.15},{"p":"P2R","x":22,"y":267,"s":0.15},{"p":"P2R","x":53,"y":263,"s":0.65},{"p":"P2R","x":6,"y":246,"s":0.65},{"p":"P2R","x":46,"y":244,"s":1},{"p":"P2R","x":137,"y":247,"s":1},{"p":"P2R","x":70,"y":236,"s":0.65},{"p":"P2R","x":32,"y":227,"s":0.65},{"p":"P2R","x":91,"y":221,"s":1},{"p":"P2R","x":100,"y":220,"s":1},{"p":"P2R","x":91,"y":215,"s":0.8},{"p":"P2R","x":159,"y":207,"s":1},{"p":"P2R","x":39,"y":203,"s":0.65},{"p":"P2R","x":21,"y":194,"s":1},{"p":"P2R","x":6,"y":188,"s":0.65},{"p":"P2R","x":125,"y":179,"s":1},{"p":"P2R","x":61,"y":174,"s":1},{"p":"P2R","x":38,"y":168,"s":1},{"p":"P2R","x":40,"y":169,"s":1},{"p":"P2R","x":36,"y":165,"s":1},{"p":"P2R","x":70,"y":160,"s":1},{"p":"P2R","x":87,"y":162,"s":1},{"p":"P2R","x":152,"y":163,"s":1},{"p":"P2R","x":196,"y":154,"s":1},{"p":"P2R","x":57,"y":154,"s":0.45},{"p":"P2R","x":48,"y":147,"s":1},{"p":"P2R","x":137,"y":151,"s":0.5},{"p":"P2R","x":140,"y":135,"s":0.4},{"p":"P2R","x":176,"y":94,"s":0.45},{"p":"P2R","x":20,"y":77,"s":0.45},{"p":"P2R","x":268,"y":44,"s":0.6},{"p":"P2R","x":11,"y":45,"s":0.3},{"p":"P2R","x":8,"y":41,"s":0.3},{"p":"P2R","x":15,"y":39,"s":0.3},{"p":"P2R","x":11,"y":31,"s":0.3},{"p":"P2R","x":6,"y":36,"s":0.3},{"p":"P2R","x":19,"y":38,"s":0.3},{"p":"P2R","x":22,"y":17,"s":0},{"p":"P2R","x":5,"y":10,"s":0.4},{"p":"P2R","x":18,"y":3,"s":0.3},{"p":"P2R","x":242,"y":19,"s":0.3},{"p":"P2R","x":269,"y":25,"s":0},{"p":"P2R","x":262,"y":16,"s":0.15},{"p":"P2R","x":271,"y":4,"s":0.45},{"p":"P2R","x":250,"y":269,"s":0},{"p":"P2R","x":255,"y":271,"s":0.1},{"p":"P2R","x":260,"y":263,"s":0.5},{"p":"P2R","x":254,"y":259,"s":0.3}
    ]
  },
  "concat": [
    {
      "width": 274, "height": 272,
      "view": {"fill": "#b3d4ee", "stroke": null},
      "title": {"text": "P2", "anchor": "start", "frame": "group", "fontSize": 29, "baseline": "alphabetic", "offset": -13, "dx": -2},
      "encoding": {
        "x": {"field": "x", "type": "quantitative", "scale": {"domain": [0, 274], "nice": false}, "axis": null},
        "y": {"field": "y", "type": "quantitative", "scale": {"domain": [0, 272], "nice": false}, "axis": {"title": "cursor Y", "labels": false, "ticks": false, "domain": false, "grid": false, "titleFontSize": 30, "titleFontWeight": "normal", "titleColor": "#000", "titleAnchor": "end", "titleBaseline": "alphabetic", "titlePadding": 5}}
      },
      "layer": [
        {"data": {"name": "paths"}, "transform": [{"filter": "datum.p == 'P2L'"}], "mark": {"type": "line", "color": "#000", "strokeWidth": 1.2}, "encoding": {"detail": {"field": "g"}, "order": {"value": null}}},
        {"data": {"name": "dots"}, "transform": [{"filter": "datum.p == 'P2L'"}], "mark": {"type": "circle", "size": 75, "opacity": 1}, "encoding": {"color": {"field": "s", "type": "quantitative", "scale": {"domain": [0, 1], "range": ["#fcf2f2", "#e8232a"], "interpolate": "rgb"}, "legend": null}}}
      ]
    },
    {
      "width": 274, "height": 272,
      "view": {"fill": "#59a9a9", "stroke": null},
      "title": {"text": "key", "anchor": "start", "frame": "group", "fontSize": 29, "baseline": "alphabetic", "offset": -2, "dx": -36},
      "encoding": {
        "x": {"field": "x", "type": "quantitative", "scale": {"domain": [0, 274], "nice": false}, "axis": {"title": "cursor X", "labels": false, "ticks": false, "domain": false, "grid": false, "titleFontSize": 30, "titleFontWeight": "normal", "titleColor": "#000", "titleAnchor": "end", "titleBaseline": "alphabetic", "titlePadding": 31}},
        "y": {"field": "y", "type": "quantitative", "scale": {"domain": [0, 272], "nice": false}, "axis": null}
      },
      "layer": [
        {"data": {"name": "paths"}, "transform": [{"filter": "datum.p == 'P2R'"}], "mark": {"type": "line", "color": "#000", "strokeWidth": 1.2}, "encoding": {"detail": {"field": "g"}, "order": {"value": null}}},
        {"data": {"name": "dots"}, "transform": [{"filter": "datum.p == 'P2R'"}], "mark": {"type": "circle", "size": 75, "opacity": 1}, "encoding": {"color": {"field": "s", "type": "quantitative", "scale": {"domain": [0, 1], "range": ["#fcf2f2", "#e8232a"], "interpolate": "rgb"}, "legend": null}}}
      ]
    },
    {
      "width": 274, "height": 272,
      "view": {"fill": "#b3d4ee", "stroke": null},
      "title": {"text": "P3", "anchor": "start", "frame": "group", "fontSize": 29, "baseline": "alphabetic", "offset": -20, "dx": 0},
      "encoding": {
        "x": {"field": "x", "type": "quantitative", "scale": {"domain": [0, 274], "nice": false}, "axis": null},
        "y": {"field": "y", "type": "quantitative", "scale": {"domain": [0, 272], "nice": false}, "axis": null}
      },
      "layer": [
        {"data": {"name": "paths"}, "transform": [{"filter": "datum.p == 'P3L'"}], "mark": {"type": "line", "color": "#000", "strokeWidth": 1.2}, "encoding": {"detail": {"field": "g"}, "order": {"value": null}}},
        {"data": {"name": "dots"}, "transform": [{"filter": "datum.p == 'P3L'"}], "mark": {"type": "circle", "size": 75, "opacity": 1}, "encoding": {"color": {"field": "s", "type": "quantitative", "scale": {"domain": [0, 1], "range": ["#fcf2f2", "#e8232a"], "interpolate": "rgb"}, "legend": null}}}
      ]
    },
    {
      "width": 274, "height": 272,
      "view": {"fill": "#59a9a9", "stroke": null},
      "encoding": {
        "x": {"field": "x", "type": "quantitative", "scale": {"domain": [0, 274], "nice": false}, "axis": null},
        "y": {"field": "y", "type": "quantitative", "scale": {"domain": [0, 272], "nice": false}, "axis": null}
      },
      "layer": [
        {"data": {"name": "paths"}, "transform": [{"filter": "datum.p == 'P3R'"}], "mark": {"type": "line", "color": "#000", "strokeWidth": 1.2}, "encoding": {"detail": {"field": "g"}, "order": {"value": null}}},
        {"data": {"name": "dots"}, "transform": [{"filter": "datum.p == 'P3R'"}], "mark": {"type": "circle", "size": 75, "opacity": 1}, "encoding": {"color": {"field": "s", "type": "quantitative", "scale": {"domain": [0, 1], "range": ["#fcf2f2", "#e8232a"], "interpolate": "rgb"}, "legend": null}}}
      ]
    },
    {
      "width": 274, "height": 272,
      "view": {"fill": "#b3d4ee", "stroke": null},
      "title": {"text": "C1", "anchor": "start", "frame": "group", "fontSize": 29, "baseline": "alphabetic", "offset": -18, "dx": 0},
      "encoding": {
        "x": {"field": "x", "type": "quantitative", "scale": {"domain": [0, 274], "nice": false}, "axis": null},
        "y": {"field": "y", "type": "quantitative", "scale": {"domain": [0, 272], "nice": false}, "axis": null}
      },
      "layer": [
        {"data": {"name": "paths"}, "transform": [{"filter": "datum.p == 'C1L'"}], "mark": {"type": "line", "color": "#000", "strokeWidth": 1.2}, "encoding": {"detail": {"field": "g"}, "order": {"value": null}}},
        {"data": {"name": "dots"}, "transform": [{"filter": "datum.p == 'C1L'"}], "mark": {"type": "circle", "size": 75, "opacity": 1}, "encoding": {"color": {"field": "s", "type": "quantitative", "scale": {"domain": [0, 1], "range": ["#fcf2f2", "#e8232a"], "interpolate": "rgb"}, "legend": null}}},
        {"data": {"values": []}, "mark": {"type": "point", "filled": true, "opacity": 1, "strokeWidth": 2},
         "encoding": {
           "fill": {"field": "kind", "type": "nominal", "scale": {"domain": ["stimulated setting", "cursor path"], "range": ["#e8232a", "#000000"]}, "legend": {"title": null}},
           "stroke": {"field": "kind", "type": "nominal", "scale": {"domain": ["stimulated setting", "cursor path"], "range": ["#e8232a", "#000000"]}, "legend": {"title": null}},
           "shape": {"field": "kind", "type": "nominal", "scale": {"domain": ["stimulated setting", "cursor path"], "range": ["circle", "stroke"]}, "legend": {"title": null}},
           "size": {"field": "kind", "type": "nominal", "scale": {"type": "ordinal", "domain": ["stimulated setting", "cursor path"], "range": [40, 625]}, "legend": {"title": null}}
         }}
      ]
    },
    {
      "width": 274, "height": 272,
      "view": {"fill": "#59a9a9", "stroke": null},
      "encoding": {
        "x": {"field": "x", "type": "quantitative", "scale": {"domain": [0, 274], "nice": false}, "axis": null},
        "y": {"field": "y", "type": "quantitative", "scale": {"domain": [0, 272], "nice": false}, "axis": null}
      },
      "layer": [
        {"data": {"name": "paths"}, "transform": [{"filter": "datum.p == 'C1R'"}], "mark": {"type": "line", "color": "#000", "strokeWidth": 1.2}, "encoding": {"detail": {"field": "g"}, "order": {"value": null}}},
        {"data": {"name": "dots"}, "transform": [{"filter": "datum.p == 'C1R'"}], "mark": {"type": "circle", "size": 75, "opacity": 1}, "encoding": {"color": {"field": "s", "type": "quantitative", "scale": {"domain": [0, 1], "range": ["#fcf2f2", "#e8232a"], "interpolate": "rgb"}, "legend": null}}}
      ]
    }
  ]
}
